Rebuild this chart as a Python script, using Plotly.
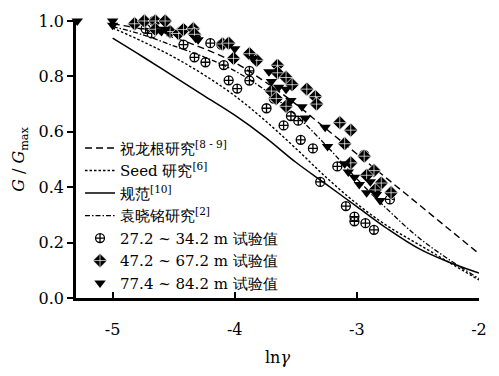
import plotly.graph_objects as go

# ---- data ----
curve_x = [-5.0, -4.75, -4.5, -4.25, -4.0, -3.75, -3.5, -3.25, -3.0, -2.75, -2.5, -2.25, -2.0]
zhu_y   = [0.99, 0.97, 0.94, 0.90, 0.85, 0.78, 0.70, 0.61, 0.52, 0.43, 0.34, 0.25, 0.16]
seed_y  = [0.975, 0.925, 0.87, 0.805, 0.73, 0.64, 0.54, 0.435, 0.34, 0.26, 0.195, 0.13, 0.065]
code_y  = [0.938, 0.87, 0.80, 0.73, 0.66, 0.58, 0.49, 0.41, 0.33, 0.25, 0.18, 0.13, 0.09]
yuan_y  = [0.98, 0.95, 0.91, 0.87, 0.82, 0.75, 0.66, 0.55, 0.43, 0.32, 0.22, 0.14, 0.07]

s1_x = [-4.73, -4.68, -4.66, -4.42, -4.33, -4.24, -4.20, -4.11, -4.09, -4.05, -3.98, -3.88, -3.88,
        -3.74, -3.68, -3.54, -3.48, -3.60, -3.46, -3.36, -3.30, -3.16, -2.94, -2.73, -3.09, -3.02,
        -3.02, -2.93, -2.86]
s1_y = [0.972, 0.955, 1.0, 0.915, 0.869, 0.851, 0.92, 0.915, 0.841, 0.786, 0.756, 0.82, 0.785,
        0.685, 0.72, 0.657, 0.64, 0.623, 0.571, 0.54, 0.419, 0.475, 0.517, 0.356, 0.332, 0.294,
        0.277, 0.27, 0.246]

s2_x = [-4.82, -4.74, -4.65, -4.57, -4.65, -4.53, -4.46, -4.42, -4.34, -4.33, -4.10, -4.05, -4.01,
        -3.88, -3.82, -3.65, -3.65, -3.58, -3.53, -3.70, -3.41, -3.34, -3.33, -3.58, -3.66, -3.14,
        -3.05, -3.10, -3.05, -2.94, -2.86, -2.92, -2.80, -2.85, -2.72]
s2_y = [0.99, 1.0, 1.0, 1.0, 0.97, 0.962, 0.955, 0.969, 0.972, 0.952, 0.917, 0.92, 0.865,
        0.882, 0.858, 0.84, 0.813, 0.796, 0.77, 0.747, 0.754, 0.727, 0.70, 0.692, 0.72, 0.633,
        0.606, 0.557, 0.488, 0.512, 0.46, 0.443, 0.415, 0.39, 0.38]

s3_x = [-5.29, -5.00, -5.00, -4.60, -4.57, -4.32, -4.30, -4.00, -3.85, -3.72, -3.70, -3.64, -3.58,
        -3.54, -3.45, -3.42, -3.26, -3.24, -3.10, -3.07, -3.02, -2.98, -2.92, -2.89, -2.84, -2.81]
s3_y = [1.0, 1.0, 0.985, 0.962, 0.97, 0.938, 0.932, 0.90, 0.865, 0.817, 0.782, 0.761, 0.754,
        0.713, 0.69, 0.65, 0.616, 0.547, 0.485, 0.455, 0.436, 0.41, 0.38, 0.42, 0.374, 0.352]

x_tickvals = [-5, -4, -3, -2]
x_ticktext = ["-5", "-4", "-3", "-2"]
y_tickvals = [0.0, 0.2, 0.4, 0.6, 0.8, 1.0]
y_ticktext = ["0.0", "0.2", "0.4", "0.6", "0.8", "1.0"]

names = ["祝龙根研究<sup>[8 - 9]</sup>", "Seed 研究<sup>[6]</sup>", "规范<sup>[10]</sup>",
         "袁晓铭研究<sup>[2]</sup>", "27.2 ~ 34.2 m 试验值", "47.2 ~ 67.2 m 试验值",
         "77.4 ~ 84.2 m 试验值"]

FONT = "DejaVu Serif"

fig = go.Figure()
fig.add_trace(go.Scatter(x=curve_x, y=zhu_y, mode="lines", name=names[0], line_shape="spline",
                         line=dict(color="black", width=1.4, dash="7px,4px")))
fig.add_trace(go.Scatter(x=curve_x, y=seed_y, mode="lines", name=names[1], line_shape="spline",
                         line=dict(color="black", width=1.4, dash="2.5px,2px")))
fig.add_trace(go.Scatter(x=curve_x, y=code_y, mode="lines", name=names[2], line_shape="spline",
                         line=dict(color="black", width=1.5)))
fig.add_trace(go.Scatter(x=curve_x, y=yuan_y, mode="lines", name=names[3], line_shape="spline",
                         line=dict(color="black", width=1.3, dash="5px,2px,1.5px,2px")))
fig.add_trace(go.Scatter(x=s1_x, y=s1_y, mode="markers", name=names[4], cliponaxis=False,
                         marker=dict(symbol="circle-cross-open", size=9, color="black",
                                     line=dict(color="black", width=1.3))))
fig.add_trace(go.Scatter(x=s2_x, y=s2_y, mode="markers", name=names[5], cliponaxis=False,
                         marker=dict(symbol="diamond-cross", size=11, color="black",
                                     line=dict(color="white", width=0.7))))
fig.add_trace(go.Scatter(x=s3_x, y=s3_y, mode="markers", name=names[6], cliponaxis=False,
                         marker=dict(symbol="triangle-down", size=10, color="black",
                                     line=dict(color="black", width=0))))

fig.update_layout(
    width=499, height=376,
    margin=dict(l=76, r=12, t=19, b=68),
    paper_bgcolor="white", plot_bgcolor="white",
    font=dict(family=FONT, size=16, color="black"),
    showlegend=True,
    legend=dict(x=0.01, y=0.6, xanchor="left", yanchor="top", bgcolor="rgba(0,0,0,0)",
                font=dict(family=FONT, size=15), tracegroupgap=0, itemwidth=30,
                traceorder="normal"),
    xaxis=dict(range=[-5.3, -2], tickvals=x_tickvals, ticktext=x_ticktext,
               showgrid=False, zeroline=False, showline=True, linecolor="black", linewidth=2.5,
               ticks="inside", ticklen=6, tickwidth=2, tickcolor="black",
               ticklabelstandoff=15, tickfont=dict(family=FONT, size=16),
               title=dict(text="ln<i>γ</i>", font=dict(family=FONT, size=16), standoff=14)),
    yaxis=dict(range=[0, 1.0], tickvals=y_tickvals, ticktext=y_ticktext,
               showgrid=False, zeroline=False, showline=True, linecolor="black", linewidth=2.5,
               ticks="outside", ticklen=6, tickwidth=2, tickcolor="black",
               tickfont=dict(family=FONT, size=16),
               title=dict(text="<i>G</i> / <i>G</i><sub>max</sub>", font=dict(family=FONT, size=16), standoff=10)),
)

fig.write_html("out.html")
